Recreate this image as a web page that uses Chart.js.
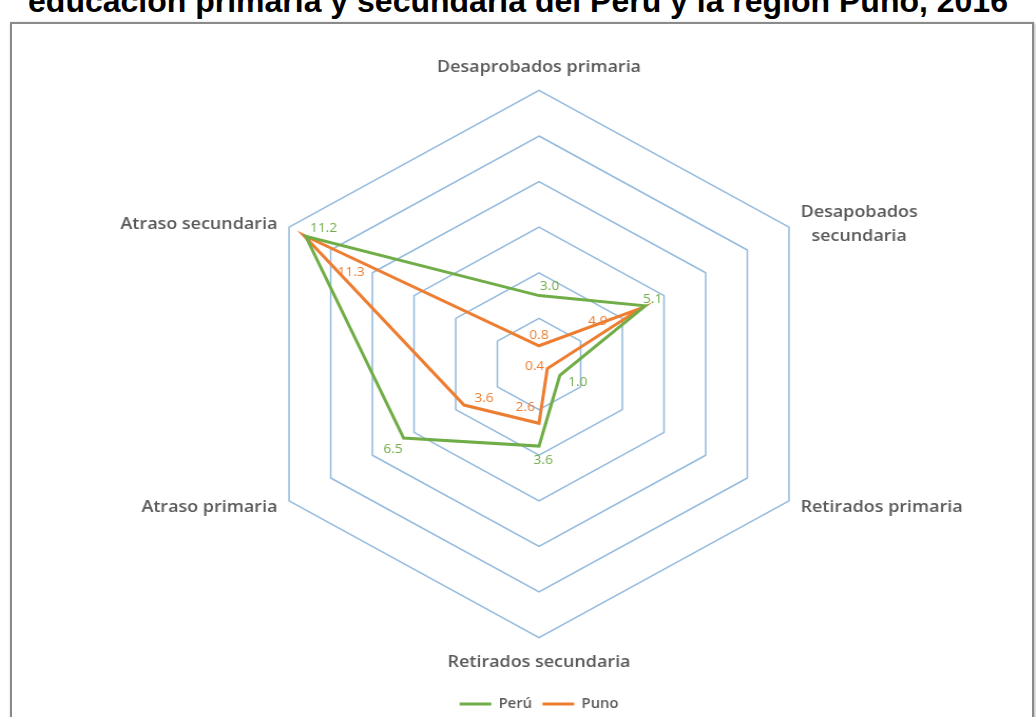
<!DOCTYPE html>
<html lang="es">
<head>
<meta charset="utf-8">
<script src="https://cdn.jsdelivr.net/npm/chart.js@4"></script>
<style>
  html, body { margin: 0; padding: 0; background: #fff; overflow: hidden; }
  body { width: 1036px; height: 717px; position: relative; }
  .titulo {
    position: absolute; left: 0; top: -15px; width: 1036px;
    text-align: center; white-space: nowrap; color: #000;
    font: bold 32px "Liberation Sans", Arial, sans-serif; line-height: 32px;
  }
  .marco {
    position: absolute; left: 10px; top: 22px; width: 1020px; height: 720px;
    border: 2px solid #8a8a8a; box-shadow: 1px 1px 3px rgba(0,0,0,.3); background: #fff;
  }
  .lienzo {
    position: absolute; left: 21px; top: 24px; width: 982px; height: 697px;
    transform-origin: 0 0; transform: scaleX(1.055);
  }
</style>
</head>
<body>
<div class="titulo">educación primaria y secundaria del Perú y la región Puno, 2016</div>
<div class="marco"></div>
<div class="lienzo"><canvas id="radar"></canvas></div>
<script>
// datos
const categorias = [
  'Desaprobados primaria',
  ['Desapobados', 'secundaria'],
  'Retirados primaria',
  'Retirados secundaria',
  'Atraso primaria',
  'Atraso secundaria'
];
const peru = [3.0, 5.1, 1.0, 3.6, 6.5, 11.2];
const puno = [0.8, 4.9, 0.4, 2.6, 3.6, 11.3];

// posicion de cada etiqueta respecto a su punto (px)
const despPeru = [[10, -9], [7, -7], [17, 7], [4, 14], [-10, 11], [17, -8]];
const despPuno = [[0, -10], [-41, 13], [-12, -2], [-13, -16], [19, -7], [45, 37]];

const etiquetas = {
  id: 'etiquetas',
  afterDatasetsDraw(chart) {
    const ctx = chart.ctx;
    const desp = [despPeru, despPuno];
    chart.data.datasets.forEach((ds, i) => {
      const meta = chart.getDatasetMeta(i);
      ctx.save();
      ctx.font = '13px "Open Sans", sans-serif';
      ctx.fillStyle = ds.borderColor;
      ctx.textAlign = 'center';
      ctx.textBaseline = 'middle';
      meta.data.forEach((pt, j) => {
        const [dx, dy] = desp[i][j];
        ctx.fillText(ds.data[j].toFixed(1), pt.x + dx, pt.y + dy);
      });
      ctx.restore();
    });
  }
};

// nombres de los ejes centrados respecto al vertice, como en Excel
const rotulos = {
  id: 'rotulos',
  afterDraw(chart) {
    const r = chart.scales.r;
    const ctx = chart.ctx;
    const alto = 24;
    ctx.save();
    ctx.font = '600 17px "Open Sans", sans-serif';
    ctx.fillStyle = '#595959';
    ctx.textAlign = 'center';
    ctx.textBaseline = 'middle';
    chart.data.labels.forEach((lab, i) => {
      const lineas = [].concat(lab);
      const p = r.getPointPosition(i, r.drawingArea);
      const ancho = Math.max(...lineas.map(l => ctx.measureText(l).width));
      const dx = p.x - r.xCenter, dy = p.y - r.yCenter;
      let x = p.x, y;
      if (Math.abs(dx) < 1) {
        y = dy < 0 ? p.y - 23 - (lineas.length - 1) * alto : p.y + 25;
      } else {
        x = dx > 0 ? p.x + 11 + ancho / 2 : p.x - 11 - ancho / 2;
        y = p.y + (dy < 0 ? -3 : 6) - (lineas.length - 1) * alto / 2;
      }
      lineas.forEach((l, k) => ctx.fillText(l, x, y + k * alto));
    });
    ctx.restore();
  }
};

new Chart(document.getElementById('radar'), {
  type: 'radar',
  data: {
    labels: categorias,
    datasets: [
      { label: 'Perú', data: peru, borderColor: '#70ad47', backgroundColor: 'transparent', borderWidth: 3, pointRadius: 0, fill: false },
      { label: 'Puno', data: puno, borderColor: '#ed7d31', backgroundColor: 'transparent', borderWidth: 3, pointRadius: 0, fill: false }
    ]
  },
  options: {
    responsive: true,
    maintainAspectRatio: false,
    animation: false,
    layout: { padding: { top: 34, bottom: 0 } },
    plugins: {
      title: { display: false },
      tooltip: { enabled: false },
      legend: {
        position: 'bottom',
        title: { display: true, text: ' ', font: { size: 14 }, padding: 0 },
        labels: {
          usePointStyle: true,
          pointStyle: 'line',
          pointStyleWidth: 30,
          color: '#595959',
          font: { family: '"Open Sans"', size: 14, weight: '600' }
        }
      }
    },
    scales: {
      r: {
        min: 0,
        max: 12,
        ticks: { stepSize: 2, display: false },
        grid: { color: '#93b9dd', lineWidth: 1.5 },
        angleLines: { display: false },
        pointLabels: {
          color: 'transparent',
          padding: 12,
          font: { family: '"Open Sans"', size: 17, weight: '600' }
        }
      }
    }
  },
  plugins: [etiquetas, rotulos]
});
</script>
</body>
</html>
